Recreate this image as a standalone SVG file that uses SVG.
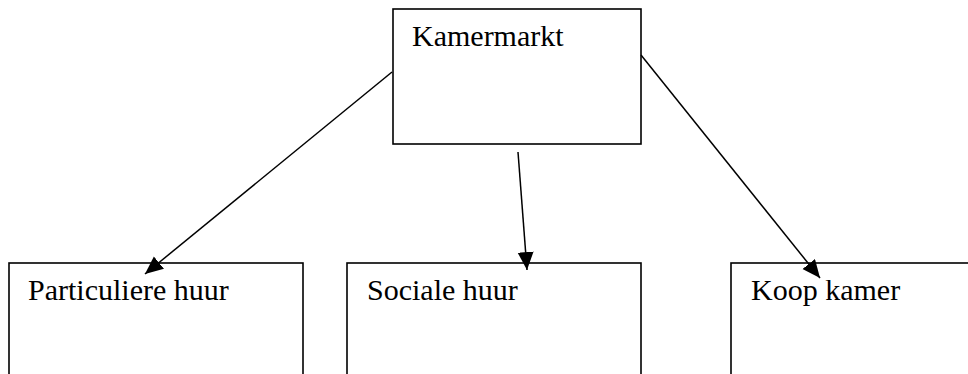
<svg xmlns="http://www.w3.org/2000/svg" width="968" height="374" viewBox="0 0 968 374">
  <style>
    .box { fill: #ffffff; stroke: #000000; stroke-width: 1.6; }
    .label { font-family: "Liberation Serif", "Times New Roman", serif; font-size: 30px; fill: #000000; }
    .edge { stroke: #000000; stroke-width: 1.5; fill: none; marker-end: url(#arrow); }
  </style>
  <defs>
    <marker id="arrow" markerUnits="userSpaceOnUse" markerWidth="20" markerHeight="18" refX="18" refY="8" orient="auto">
      <path d="M0,0 L18,8 L0,16 Z" fill="#000000"/>
    </marker>
  </defs>
  <rect width="968" height="374" fill="#ffffff"/>

  <g id="node-kamermarkt">
    <rect class="box" x="393" y="9" width="248" height="135"/>
    <text class="label" x="412" y="46">Kamermarkt</text>
  </g>

  <g id="node-particuliere-huur">
    <rect class="box" x="9" y="263" width="294" height="130"/>
    <text class="label" x="28" y="300">Particuliere huur</text>
  </g>

  <g id="node-sociale-huur">
    <rect class="box" x="347" y="263" width="294" height="130"/>
    <text class="label" x="367" y="300">Sociale huur</text>
  </g>

  <g id="node-koop-kamer">
    <rect class="box" x="731" y="263" width="260" height="130"/>
    <text class="label" x="751" y="300">Koop kamer</text>
  </g>

  <g id="connectors">
    <line class="edge" x1="392" y1="72" x2="145" y2="274"/>
    <line class="edge" x1="518" y1="152" x2="527" y2="270"/>
    <line class="edge" x1="641" y1="55" x2="820" y2="278"/>
  </g>
</svg>
